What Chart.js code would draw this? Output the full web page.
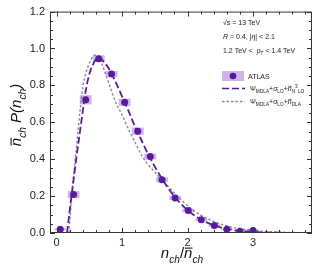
<!DOCTYPE html>
<html>
<head>
<meta charset="utf-8">
<script src="https://cdn.jsdelivr.net/npm/chart.js@4"></script>
<style>
  html, body { margin: 0; padding: 0; background: #fff; }
  #wrap { width: 327px; height: 268px; }
</style>
</head>
<body>
<div id="wrap"><canvas id="kno"></canvas></div>
<script>
// ATLAS data points
const atlasX = [0.057, 0.26, 0.445, 0.644, 0.84, 1.04, 1.24, 1.43, 1.61, 1.81, 2.01, 2.21, 2.41, 2.60, 2.80, 3.0];
const atlasY = [0.02, 0.208, 0.722, 0.945, 0.862, 0.708, 0.552, 0.414, 0.289, 0.19, 0.122, 0.072, 0.040, 0.020, 0.009, 0.014];
const atlasErrY = [0.005, 0.019, 0.025, 0.018, 0.016, 0.02, 0.02, 0.016, 0.013, 0.011, 0.01, 0.008, 0.006, 0.005, 0.005, 0.005];
const atlasErrX = 0.09;

// MDLA + LO + N3LO curve
const n3loX = [0.16, 0.2, 0.25, 0.3, 0.35, 0.4, 0.45, 0.5, 0.55, 0.6, 0.65, 0.7, 0.8, 0.9, 1.0, 1.1, 1.2, 1.3, 1.4, 1.5, 1.6, 1.7, 1.8, 1.9, 2.0, 2.1, 2.2, 2.3, 2.4, 2.5, 2.6, 2.7, 2.8, 2.9, 3.0, 3.2, 3.4, 3.6, 3.9];
const n3loY = [0.0, 0.12, 0.26, 0.40, 0.53, 0.66, 0.78, 0.86, 0.91, 0.94, 0.95, 0.935, 0.89, 0.82, 0.74, 0.66, 0.575, 0.50, 0.425, 0.36, 0.30, 0.245, 0.198, 0.158, 0.124, 0.096, 0.074, 0.056, 0.042, 0.031, 0.023, 0.017, 0.012, 0.009, 0.006, 0.003, 0.0015, 0.0007, 0.0002];

// MDLA + LO + DLA curve
const dlaX = [0.19, 0.23, 0.3, 0.37, 0.4, 0.45, 0.5, 0.55, 0.6, 0.65, 0.7, 0.75, 0.8, 0.9, 1.0, 1.1, 1.2, 1.3, 1.4, 1.5, 1.6, 1.7, 1.8, 1.9, 2.0, 2.1, 2.2, 2.3, 2.4, 2.5, 2.6, 2.7, 2.8, 2.9, 3.0, 3.2, 3.4, 3.6, 3.9];
const dlaY = [0.0, 0.2, 0.45, 0.70, 0.79, 0.87, 0.92, 0.955, 0.965, 0.955, 0.91, 0.86, 0.81, 0.71, 0.64, 0.56, 0.49, 0.42, 0.37, 0.33, 0.29, 0.255, 0.215, 0.18, 0.148, 0.12, 0.097, 0.078, 0.062, 0.049, 0.038, 0.030, 0.023, 0.018, 0.014, 0.008, 0.0045, 0.0025, 0.001];

// Axis ticks
const xTicks = [0, 1, 2, 3];
const yTicks = [0, 0.2, 0.4, 0.6, 0.8, 1.0, 1.2];

const PURPLE = '#5b1a9e';
const BOX = 'rgba(160, 120, 215, 0.55)';
const FONT = '"Liberation Sans", Arial, sans-serif';

function toXY(xs, ys) {
    return xs.map((x, i) => ({ x: x, y: ys[i] }));
}

// Measure a run of text pieces: [text, {i, sub, sup, bar}]
function richWidth(ctx, parts, size) {
    let w = 0;
    parts.forEach(p => {
        const o = p[1] || {};
        const s = (o.sub || o.sup) ? size * 0.68 : size;
        ctx.font = (o.i ? 'italic ' : '') + s + 'px ' + FONT;
        w += ctx.measureText(p[0]).width;
    });
    return w;
}

function drawRich(ctx, x, y, parts, size) {
    parts.forEach(p => {
        const o = p[1] || {};
        const s = (o.sub || o.sup) ? size * 0.68 : size;
        let dy = 0;
        if (o.sub) dy = size * 0.3;
        if (o.sup) dy = -size * 0.42;
        ctx.font = (o.i ? 'italic ' : '') + s + 'px ' + FONT;
        const w = ctx.measureText(p[0]).width;
        ctx.fillText(p[0], x, y + dy);
        if (o.bar) {
            ctx.save();
            ctx.lineWidth = Math.max(0.6, size / 14);
            ctx.strokeStyle = ctx.fillStyle;
            ctx.beginPath();
            const by = y + dy - s * 0.66;
            ctx.moveTo(x + s * 0.05, by);
            ctx.lineTo(x + w, by);
            ctx.stroke();
            ctx.restore();
        }
        x += w;
    });
    return x;
}

// Error boxes behind the ATLAS points
const boxPlugin = {
    id: 'boxes',
    beforeDatasetsDraw(chart) {
        const { ctx, chartArea, scales } = chart;
        ctx.save();
        ctx.beginPath();
        ctx.rect(chartArea.left, chartArea.top, chartArea.width, chartArea.height);
        ctx.clip();
        ctx.fillStyle = BOX;
        atlasX.forEach((x, i) => {
            const x0 = scales.x.getPixelForValue(x - atlasErrX);
            const x1 = scales.x.getPixelForValue(x + atlasErrX);
            const y0 = scales.y.getPixelForValue(atlasY[i] + atlasErrY[i]);
            const y1 = scales.y.getPixelForValue(atlasY[i] - atlasErrY[i]);
            ctx.fillRect(x0, y0, x1 - x0, y1 - y0);
        });
        ctx.restore();
    }
};

// Frame, inward ticks, titles and legend
const decorPlugin = {
    id: 'decor',
    afterDraw(chart) {
        const { ctx, chartArea: a, scales } = chart;
        ctx.save();
        ctx.strokeStyle = '#333';
        ctx.lineWidth = 1;
        ctx.strokeRect(a.left + 0.5, a.top + 0.5, a.width - 1, a.height - 1);

        ctx.beginPath();
        for (let k = 0; k <= 19; k++) {
            const v = k * 0.2;
            const px = Math.round(scales.x.getPixelForValue(v)) + 0.5;
            const len = (k % 5 === 0) ? 5 : 3;
            ctx.moveTo(px, a.bottom); ctx.lineTo(px, a.bottom - len);
            ctx.moveTo(px, a.top); ctx.lineTo(px, a.top + len);
        }
        for (let k = 0; k <= 24; k++) {
            const v = k * 0.05;
            const py = Math.round(scales.y.getPixelForValue(v)) + 0.5;
            const len = (k % 4 === 0) ? 5 : 3;
            ctx.moveTo(a.left, py); ctx.lineTo(a.left + len, py);
            ctx.moveTo(a.right, py); ctx.lineTo(a.right - len, py);
        }
        ctx.stroke();

        // axis titles
        ctx.fillStyle = '#111';
        ctx.textBaseline = 'alphabetic';
        const xt = [['n', { i: true }], ['ch', { i: true, sub: true }], ['/', {}], ['n', { i: true, bar: true }], ['ch', { i: true, sub: true }]];
        const xw = richWidth(ctx, xt, 15);
        drawRich(ctx, 182 - xw / 2, 258, xt, 15);

        const yt = [['n', { i: true, bar: true }], ['ch', { i: true, sub: true }], [' P(', { i: true }], ['n', { i: true }], ['ch', { i: true, sub: true }], [')', { i: true }]];
        const yw = richWidth(ctx, yt, 15);
        ctx.save();
        ctx.translate(21, 115);
        ctx.rotate(-Math.PI / 2);
        drawRich(ctx, -yw / 2, 0, yt, 15);
        ctx.restore();

        // legend block
        const fs = 7;
        ctx.fillStyle = '#222';
        drawRich(ctx, 223, 25, [['\u221As', {}], [' = 13 TeV', {}]], fs);
        drawRich(ctx, 223, 39, [['R', { i: true }], [' = 0.4, |', {}], ['\u03B7', { i: true }], ['| < 2.1', {}]], fs);
        drawRich(ctx, 223, 53, [['1.2 TeV <  ', {}], ['p', { i: true }], ['T', { sub: true }], [' < 1.4 TeV', {}]], fs);

        ctx.fillStyle = BOX;
        ctx.fillRect(222, 71, 22, 10);
        ctx.fillStyle = PURPLE;
        ctx.beginPath();
        ctx.arc(233, 76, 3.3, 0, Math.PI * 2);
        ctx.fill();
        ctx.fillStyle = '#222';
        drawRich(ctx, 248, 78.5, [['ATLAS', {}]], fs);

        ctx.lineWidth = 1.6;
        ctx.strokeStyle = PURPLE;
        ctx.setLineDash([7, 3]);
        ctx.beginPath(); ctx.moveTo(222, 88.5); ctx.lineTo(245, 88.5); ctx.stroke();
        ctx.lineWidth = 1.3;
        ctx.strokeStyle = '#8a8a8a';
        ctx.setLineDash([2.5, 2]);
        ctx.beginPath(); ctx.moveTo(222, 101.5); ctx.lineTo(245, 101.5); ctx.stroke();
        ctx.setLineDash([]);

        drawRich(ctx, 250, 91, [['\u03A8', {}], ['MDLA', { sub: true }], ['+', {}], ['\u03C3', { i: true }], ['LO', { sub: true }], ['+', {}], ['n', { i: true, bar: true }], ['N', { sub: true }], ['3', { sup: true }], ['LO', { sub: true }]], fs);
        drawRich(ctx, 250, 104, [['\u03A8', {}], ['MDLA', { sub: true }], ['+', {}], ['\u03C3', { i: true }], ['LO', { sub: true }], ['+', {}], ['n', { i: true, bar: true }], ['DLA', { sub: true }]], fs);
        ctx.restore();
    }
};

new Chart(document.getElementById('kno'), {
    type: 'line',
    data: {
        datasets: [
            {
                type: 'scatter',
                label: 'ATLAS',
                data: toXY(atlasX, atlasY),
                backgroundColor: PURPLE,
                borderColor: PURPLE,
                pointRadius: 3.5,
                pointBorderWidth: 0,
                order: 0
            },
            {
                label: 'N3LO',
                data: toXY(n3loX, n3loY),
                borderColor: PURPLE,
                borderWidth: 1.8,
                borderDash: [7, 3],
                pointRadius: 0,
                cubicInterpolationMode: 'monotone',
                fill: false,
                order: 1
            },
            {
                label: 'DLA',
                data: toXY(dlaX, dlaY),
                borderColor: '#8a8a8a',
                borderWidth: 1.4,
                borderDash: [2.5, 2],
                pointRadius: 0,
                cubicInterpolationMode: 'monotone',
                fill: false,
                order: 2
            }
        ]
    },
    options: {
        responsive: true,
        maintainAspectRatio: false,
        animation: false,
        layout: { padding: { left: 0, right: 15, top: 9, bottom: 0 } },
        plugins: {
            legend: { display: false },
            tooltip: { enabled: false }
        },
        scales: {
            x: {
                type: 'linear',
                min: -0.1,
                max: 3.9,
                grid: { display: false, drawTicks: false },
                border: { display: false },
                afterBuildTicks: s => { s.ticks = xTicks.map(v => ({ value: v })); },
                afterFit: s => { s.height = 35; },
                ticks: {
                    color: '#222',
                    padding: 3,
                    autoSkip: false,
                    maxRotation: 0,
                    font: { family: FONT, size: 11 },
                    callback: v => String(v)
                }
            },
            y: {
                type: 'linear',
                min: 0,
                max: 1.2,
                grid: { display: false, drawTicks: false },
                border: { display: false },
                afterBuildTicks: s => { s.ticks = yTicks.map(v => ({ value: v })); },
                afterFit: s => { s.width = 50; },
                ticks: {
                    color: '#222',
                    padding: 5,
                    autoSkip: false,
                    font: { family: FONT, size: 11 },
                    callback: v => Number(v).toFixed(1)
                }
            }
        }
    },
    plugins: [boxPlugin, decorPlugin]
});
</script>
</body>
</html>
